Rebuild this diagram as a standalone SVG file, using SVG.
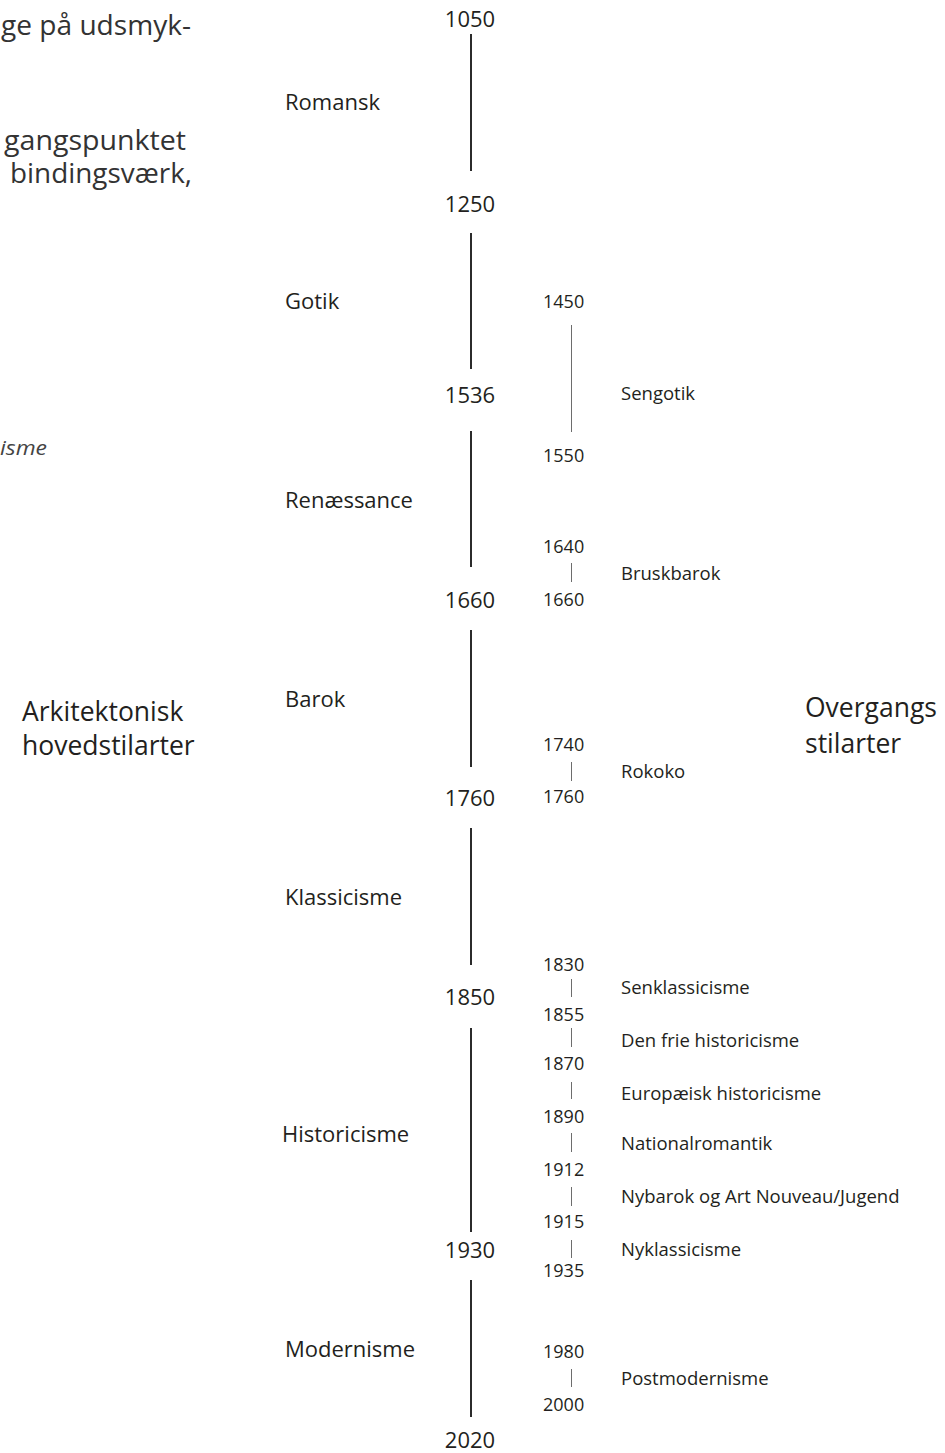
<svg xmlns="http://www.w3.org/2000/svg" width="945" height="1453" viewBox="0 0 945 1453">
<style>
text{font-family:"Open Sans","Noto Sans","Liberation Sans",sans-serif;fill:#231f20}
.para{font-family:"Open Sans","Liberation Sans",sans-serif;font-size:26.5px;fill:#333}
.it{font-family:"Open Sans","Liberation Sans",sans-serif;font-size:20px;font-style:italic;fill:#444}
.yr{font-size:22px;text-anchor:middle}
.sty{font-size:22px}
.sy{font-size:18px}
.ss{font-size:18.5px}
.big{font-size:26.5px}
.main{stroke:#2b2b2b;stroke-width:2}
.sub{stroke:#6d6d6d;stroke-width:1}
</style>
<rect width="945" height="1453" fill="#fff"/>
<g id="paragraph">
<text class="para" x="1" y="35" textLength="190" lengthAdjust="spacingAndGlyphs">ge på udsmyk-</text>
<text class="para" x="4" y="150" textLength="182" lengthAdjust="spacingAndGlyphs">gangspunktet</text>
<text class="para" x="10" y="183" textLength="182" lengthAdjust="spacingAndGlyphs">bindingsværk,</text>
<text class="it" x="0" y="455" textLength="47" lengthAdjust="spacingAndGlyphs">isme</text>
</g>
<g id="heading-left"><text class="big" x="22" y="721">Arkitektonisk</text><text class="big" x="22" y="755">hovedstilarter</text></g>
<g id="heading-right"><text class="big" x="805" y="717">Overgangs</text><text class="big" x="805" y="753">stilarter</text></g>
<g id="connectors">
<line class="main" x1="471" y1="34" x2="471" y2="171"/>
<line class="main" x1="471" y1="233" x2="471" y2="369"/>
<line class="main" x1="471" y1="431" x2="471" y2="567"/>
<line class="main" x1="471" y1="630" x2="471" y2="767"/>
<line class="main" x1="471" y1="828" x2="471" y2="965"/>
<line class="main" x1="471" y1="1028" x2="471" y2="1232"/>
<line class="main" x1="471" y1="1280" x2="471" y2="1417"/>
<line class="sub" x1="571.5" y1="325" x2="571.5" y2="432"/>
<line class="sub" x1="571.5" y1="563" x2="571.5" y2="582"/>
<line class="sub" x1="571.5" y1="762" x2="571.5" y2="781"/>
<line class="sub" x1="571.5" y1="979" x2="571.5" y2="997"/>
<line class="sub" x1="571.5" y1="1028" x2="571.5" y2="1047"/>
<line class="sub" x1="571.5" y1="1082" x2="571.5" y2="1099"/>
<line class="sub" x1="571.5" y1="1133" x2="571.5" y2="1152"/>
<line class="sub" x1="571.5" y1="1187" x2="571.5" y2="1206"/>
<line class="sub" x1="571.5" y1="1240" x2="571.5" y2="1258"/>
<line class="sub" x1="571.5" y1="1369" x2="571.5" y2="1387"/>
</g>
<g id="main-years">
<text class="yr" x="470" y="27">1050</text>
<text class="yr" x="470" y="212">1250</text>
<text class="yr" x="470" y="403">1536</text>
<text class="yr" x="470" y="608">1660</text>
<text class="yr" x="470" y="806">1760</text>
<text class="yr" x="470" y="1005">1850</text>
<text class="yr" x="470" y="1258">1930</text>
<text class="yr" x="470" y="1448">2020</text>
</g>
<g id="romansk"><text class="sty" x="285" y="110">Romansk</text></g>
<g id="gotik"><text class="sty" x="285" y="309">Gotik</text></g>
<g id="renaessance"><text class="sty" x="285" y="508">Renæssance</text></g>
<g id="barok"><text class="sty" x="285" y="707">Barok</text></g>
<g id="klassicisme"><text class="sty" x="285" y="905">Klassicisme</text></g>
<g id="historicisme"><text class="sty" x="282" y="1142">Historicisme</text></g>
<g id="modernisme"><text class="sty" x="285" y="1357">Modernisme</text></g>
<g id="sub-years">
<text class="sy" x="543" y="308">1450</text>
<text class="sy" x="543" y="462">1550</text>
<text class="sy" x="543" y="553">1640</text>
<text class="sy" x="543" y="606">1660</text>
<text class="sy" x="543" y="751">1740</text>
<text class="sy" x="543" y="803">1760</text>
<text class="sy" x="543" y="971">1830</text>
<text class="sy" x="543" y="1021">1855</text>
<text class="sy" x="543" y="1070">1870</text>
<text class="sy" x="543" y="1123">1890</text>
<text class="sy" x="543" y="1176">1912</text>
<text class="sy" x="543" y="1228">1915</text>
<text class="sy" x="543" y="1277">1935</text>
<text class="sy" x="543" y="1358">1980</text>
<text class="sy" x="543" y="1411">2000</text>
</g>
<g id="sengotik"><text class="ss" x="621" y="400">Sengotik</text></g>
<g id="bruskbarok"><text class="ss" x="621" y="580">Bruskbarok</text></g>
<g id="rokoko"><text class="ss" x="621" y="778">Rokoko</text></g>
<g id="senklassicisme"><text class="ss" x="621" y="994">Senklassicisme</text></g>
<g id="den-frie-historicisme"><text class="ss" x="621" y="1047">Den frie historicisme</text></g>
<g id="europaeisk-historicisme"><text class="ss" x="621" y="1100">Europæisk historicisme</text></g>
<g id="nationalromantik"><text class="ss" x="621" y="1150">Nationalromantik</text></g>
<g id="nybarok"><text class="ss" x="621" y="1203">Nybarok og Art Nouveau/Jugend</text></g>
<g id="nyklassicisme"><text class="ss" x="621" y="1256">Nyklassicisme</text></g>
<g id="postmodernisme"><text class="ss" x="621" y="1385">Postmodernisme</text></g>
</svg>
